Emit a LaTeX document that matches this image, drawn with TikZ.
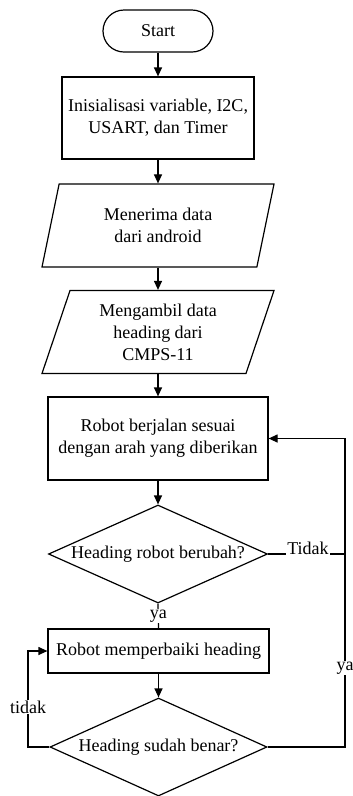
\documentclass[tikz,border=0pt]{standalone}
\usepackage{fontspec}
\setmainfont{Liberation Serif}
\usetikzlibrary{shapes.geometric,shapes.misc,arrows.meta}
\begin{document}
\begin{tikzpicture}[x=1pt,y=-1pt,
  font=\fontsize{18}{22}\selectfont,
  line width=1.2pt,
  arr/.style={-{Triangle[length=9pt,width=8pt]}},
  term/.style={draw,rounded rectangle,minimum width=110pt,minimum height=42pt,inner sep=0pt},
  proc/.style={draw,rectangle,align=center,inner sep=0pt},
  io/.style={draw,trapezium,trapezium left angle=63.7,trapezium right angle=116.3,
    trapezium stretches body=true,minimum width=232pt,minimum height=83pt,align=center,inner sep=0pt},
  dec/.style={draw,diamond,aspect=2.23,inner sep=0pt,minimum width=219pt,minimum height=98pt},
  lbl/.style={fill=white,inner xsep=1pt,inner ysep=0.5pt}]
\useasboundingbox (0,0) rectangle (353,796);

\node[term] (start) at (158,31) {Start};
\node[proc,minimum width=192pt,minimum height=82pt] (init) at (158,118)
  {Inisialisasi variable, I2C,\\USART, dan Timer};
\node[io] (p1) at (158,225.5) {Menerima data\\dari android};
\node[io] (p2) at (158,332) {Mengambil data\\heading dari\\CMPS-11};
\node[proc,minimum width=220pt,minimum height=83pt] (run) at (158,438.5)
  {Robot berjalan sesuai\\dengan arah yang diberikan};
\node[dec] (d1) at (158,554) {Heading robot berubah?};
\node[proc,minimum width=221pt,minimum height=44pt] (fix) at (158.5,651)
  {Robot memperbaiki heading};
\node[dec,minimum width=217pt] (d2) at (158.5,747) {Heading sudah benar?};

\coordinate (rt) at (345,438.5);
\coordinate (rm) at (345,554);
\coordinate (rb) at (345,747);
\coordinate (lb) at (28,747);
\coordinate (lt) at (28,651);

\draw[arr] (start.south) -- (init.north);
\draw[arr] (init.south) -- (init.south |- p1.north);
\draw[arr] (p1.center |- p1.south) -- (p1.center |- p2.north);
\draw[arr] (p2.center |- p2.south) -- (run.north);
\draw[arr] (run.south) -- (d1.north);
\draw (d1.south) -- node[lbl] {ya} (fix.north);
\draw[arr] (fix.south) -- (d2.north);

\draw (d1.east) -- (rm);
\node[lbl,anchor=base,inner ysep=0.6pt] (tidak1) at (308,554.6) {Tidak};
\draw[arr] (d2.east) -- (rb) -- (rt) -- (run.east);
\node[lbl] (ya2) at (345,668) {ya};
\draw[arr] (d2.west) -- (lb) -- (lt) -- (fix.west);
\node[lbl] (tidak2) at (28,707) {tidak};
\end{tikzpicture}
\end{document}
